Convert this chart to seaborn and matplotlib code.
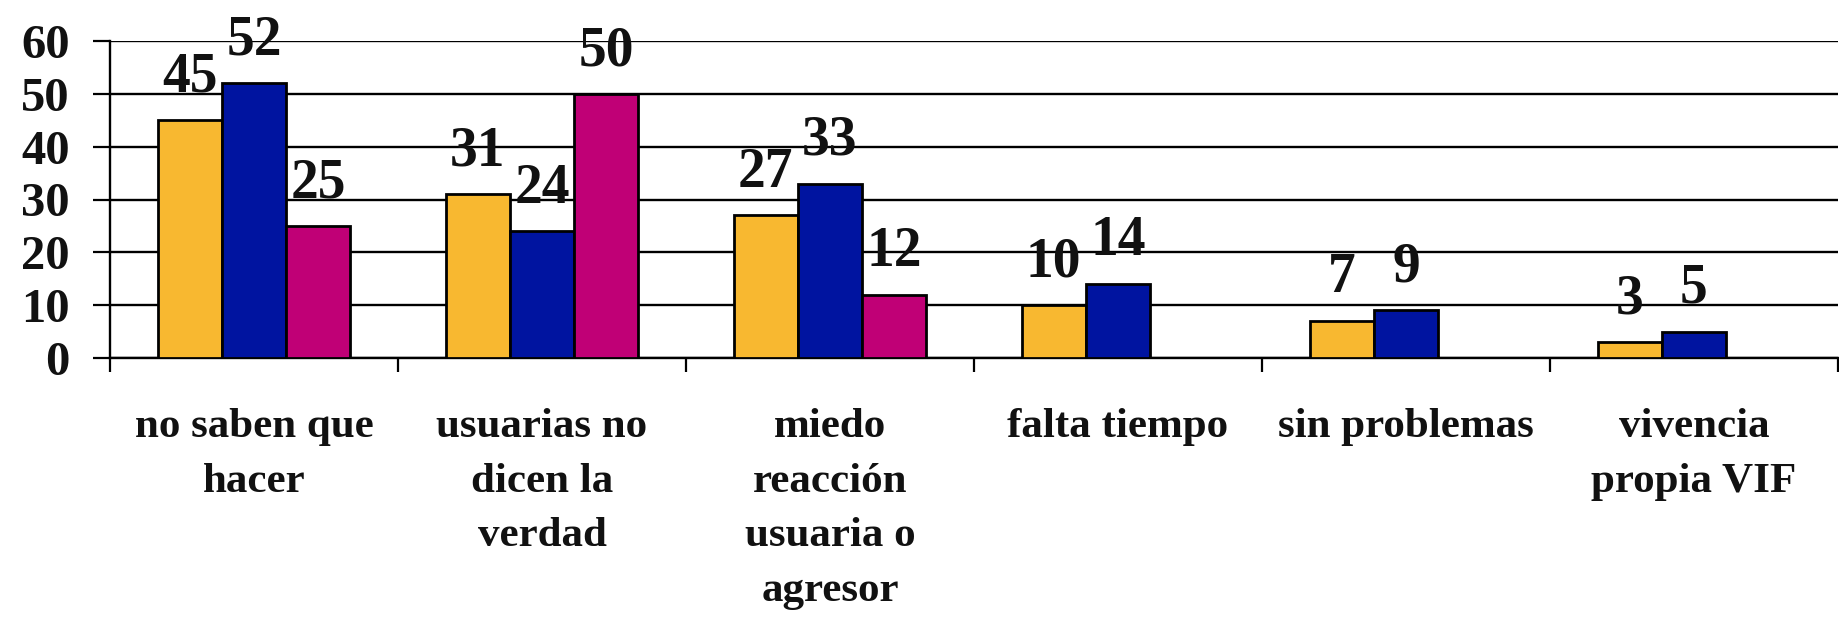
import numpy as np
import pandas as pd
import matplotlib
matplotlib.use("Agg")
import matplotlib.pyplot as plt
import seaborn as sns

categories = ["no saben que\nhacer", "usuarias no\ndicen la\nverdad",
              "miedo\nreacción\nusuaria o\nagresor", "falta tiempo",
              "sin problemas", "vivencia\npropia VIF"]
serie_a = [45, 31, 27, 10, 7, 3]
serie_b = [52, 24, 33, 14, 9, 5]
serie_c = [25, 50, 12, np.nan, np.nan, np.nan]
series_names = ["A", "B", "C"]
yticks = [0, 10, 20, 30, 40, 50, 60]

colors = ["#F8B830", "#0014A0", "#C00076"]

rows = []
for name, vals in zip(series_names, [serie_a, serie_b, serie_c]):
    for cat, v in zip(categories, vals):
        rows.append({"cat": cat, "serie": name, "val": v})
df = pd.DataFrame(rows)

sns.set_style("white")
plt.rcParams["font.family"] = ["Liberation Serif", "DejaVu Serif"]
plt.rcParams["font.weight"] = "bold"

fig = plt.figure(figsize=(18.4, 6.18), dpi=100)
ax = fig.add_axes([110 / 1840, 1 - 358 / 618, 1728 / 1840, 317 / 618])

sns.barplot(data=df, x="cat", y="val", hue="serie", order=categories,
            hue_order=series_names, palette=colors, saturation=1,
            width=0.67, gap=0, errorbar=None, edgecolor="black",
            linewidth=2, legend=False, ax=ax, zorder=3)

ax.set_xlim(-0.5, len(categories) - 0.5)
ax.set_ylim(0, 60)
ax.set_yticks(yticks)
ax.set_xlabel("")
ax.set_ylabel("")

ax.grid(axis="y", color="black", linewidth=1.7, zorder=0)
ax.grid(axis="x", visible=False)
ax.set_axisbelow(True)

for s in ["top", "right"]:
    ax.spines[s].set_visible(False)
for s in ["left", "bottom"]:
    ax.spines[s].set_color("black")
    ax.spines[s].set_linewidth(1.7)

ax.tick_params(axis="y", direction="out", length=12, width=1.6, color="black",
               pad=17, labelsize=35, left=True, labelcolor="#111111")
ax.tick_params(axis="x", which="major", length=0, pad=36, labelsize=31,
               labelcolor="#111111")
ax.set_xticks(np.arange(-0.5, len(categories)), minor=True)
ax.tick_params(axis="x", which="minor", direction="out", length=10, width=1.6,
               color="black", bottom=True)
for lab in ax.get_yticklabels():
    lab.set_fontweight("bold")
for lab in ax.get_xticklabels():
    lab.set_fontweight("bold")
    lab.set_linespacing(1.57)

for cont, vals in zip(ax.containers, [serie_a, serie_b, serie_c]):
    labels = [f"{int(v)}" for v in vals if not np.isnan(v)]
    ax.bar_label(cont, labels=labels[:len(cont)], padding=12, fontsize=40,
                 fontweight="bold", color="#111111")

fig.savefig("out.png", dpi=100, facecolor="white")
